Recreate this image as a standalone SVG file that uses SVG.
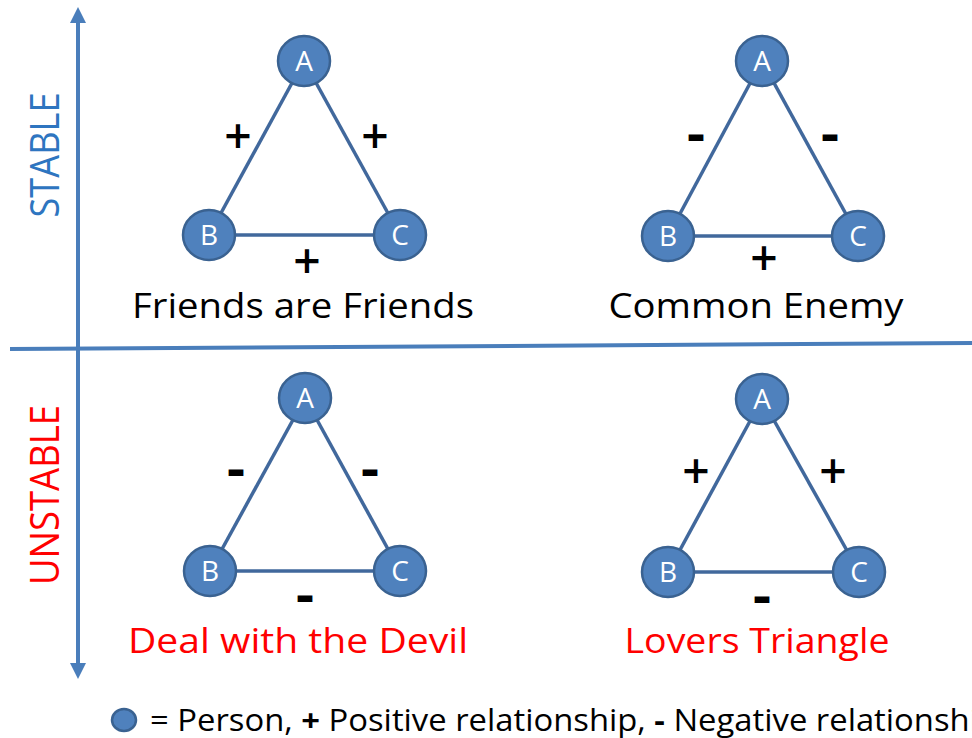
<svg xmlns="http://www.w3.org/2000/svg" width="972" height="738" viewBox="0 0 972 738">
<style>
.edge{stroke:#41689C;stroke-width:3.5;fill:none}
.node{fill:#4F81BD;stroke:#3A6291;stroke-width:2.5}
.nl{font-family:"Open Sans","Liberation Sans",sans-serif;font-size:28px;fill:#fff;text-anchor:middle}
.plus{font-family:"Open Sans","Liberation Sans",sans-serif;font-weight:600;font-size:48px;fill:#000;text-anchor:middle}
.minus{font-family:"Open Sans","Liberation Sans",sans-serif;font-weight:800;font-size:42px;fill:#000;text-anchor:middle}
.title{font-family:"Open Sans","Liberation Sans",sans-serif;font-size:34px;text-anchor:middle}
.axis{stroke:#4A7EBB;stroke-width:4;fill:none}
</style>
<g id="axes">
<line class="axis" x1="78" y1="20" x2="78" y2="666"/>
<polygon points="78,7 70,23 86,23" fill="#4A7EBB"/>
<polygon points="78,679 70,663 86,663" fill="#4A7EBB"/>
<line class="axis" x1="10" y1="349" x2="972" y2="343"/>
<text x="59" y="155" transform="rotate(-90 59 155)" font-family="Open Sans, Liberation Sans, sans-serif" font-size="41" fill="#2E75C0" text-anchor="middle" textLength="125" lengthAdjust="spacingAndGlyphs">STABLE</text>
<text x="59" y="495" transform="rotate(-90 59 495)" font-family="Open Sans, Liberation Sans, sans-serif" font-size="41" fill="#FF0000" text-anchor="middle" textLength="180" lengthAdjust="spacingAndGlyphs">UNSTABLE</text>
</g>
<g id="connectors">
<line class="edge" x1="304" y1="61" x2="209" y2="235"/>
<line class="edge" x1="304" y1="61" x2="400" y2="235"/>
<line class="edge" x1="209" y1="235" x2="400" y2="235"/>
<line class="edge" x1="762" y1="61" x2="668" y2="236"/>
<line class="edge" x1="762" y1="61" x2="858" y2="236"/>
<line class="edge" x1="668" y1="236" x2="858" y2="236"/>
<line class="edge" x1="305" y1="398" x2="210" y2="571"/>
<line class="edge" x1="305" y1="398" x2="400" y2="571"/>
<line class="edge" x1="210" y1="571" x2="400" y2="571"/>
<line class="edge" x1="762" y1="399" x2="668" y2="572"/>
<line class="edge" x1="762" y1="399" x2="859" y2="572"/>
<line class="edge" x1="668" y1="572" x2="859" y2="572"/>
</g>
<g id="signs">
<text class="plus" x="238" y="153">+</text>
<text class="plus" x="375" y="153">+</text>
<text class="plus" x="307" y="278">+</text>
<text class="minus" x="696" y="149" textLength="17" lengthAdjust="spacingAndGlyphs">-</text>
<text class="minus" x="830" y="149" textLength="17" lengthAdjust="spacingAndGlyphs">-</text>
<text class="plus" x="764" y="275">+</text>
<text class="minus" x="236" y="484" textLength="17" lengthAdjust="spacingAndGlyphs">-</text>
<text class="minus" x="370" y="484" textLength="17" lengthAdjust="spacingAndGlyphs">-</text>
<text class="minus" x="305" y="610" textLength="17" lengthAdjust="spacingAndGlyphs">-</text>
<text class="plus" x="696" y="488">+</text>
<text class="plus" x="833" y="488">+</text>
<text class="minus" x="762" y="611" textLength="17" lengthAdjust="spacingAndGlyphs">-</text>
</g>
<g id="t1A"><ellipse class="node" cx="304" cy="61" rx="26" ry="25"/><text class="nl" x="304" y="71">A</text></g>
<g id="t1B"><ellipse class="node" cx="209" cy="235" rx="26" ry="25"/><text class="nl" x="209" y="245">B</text></g>
<g id="t1C"><ellipse class="node" cx="400" cy="235" rx="26" ry="25"/><text class="nl" x="400" y="245">C</text></g>
<g id="t2A"><ellipse class="node" cx="762" cy="61" rx="26" ry="25"/><text class="nl" x="762" y="71">A</text></g>
<g id="t2B"><ellipse class="node" cx="668" cy="236" rx="26" ry="25"/><text class="nl" x="668" y="246">B</text></g>
<g id="t2C"><ellipse class="node" cx="858" cy="236" rx="26" ry="25"/><text class="nl" x="858" y="246">C</text></g>
<g id="t3A"><ellipse class="node" cx="305" cy="398" rx="26" ry="25"/><text class="nl" x="305" y="408">A</text></g>
<g id="t3B"><ellipse class="node" cx="210" cy="571" rx="26" ry="25"/><text class="nl" x="210" y="581">B</text></g>
<g id="t3C"><ellipse class="node" cx="400" cy="571" rx="26" ry="25"/><text class="nl" x="400" y="581">C</text></g>
<g id="t4A"><ellipse class="node" cx="762" cy="399" rx="26" ry="25"/><text class="nl" x="762" y="409">A</text></g>
<g id="t4B"><ellipse class="node" cx="668" cy="572" rx="26" ry="25"/><text class="nl" x="668" y="582">B</text></g>
<g id="t4C"><ellipse class="node" cx="859" cy="572" rx="26" ry="25"/><text class="nl" x="859" y="582">C</text></g>
<g id="titles">
<text class="title" x="303" y="318" fill="#000" textLength="342" lengthAdjust="spacingAndGlyphs">Friends are Friends</text>
<text class="title" x="756" y="318" fill="#000" textLength="295" lengthAdjust="spacingAndGlyphs">Common Enemy</text>
<text class="title" x="298" y="653" fill="#FF0000" textLength="340" lengthAdjust="spacingAndGlyphs">Deal with the Devil</text>
<text class="title" x="757" y="653" fill="#FF0000" textLength="265" lengthAdjust="spacingAndGlyphs">Lovers Triangle</text>
</g>
<g id="legend">
<ellipse class="node" cx="124" cy="720" rx="12" ry="11"/>
<text x="150" y="731" font-family="Open Sans, Liberation Sans, sans-serif" font-size="31" fill="#000" textLength="848" lengthAdjust="spacingAndGlyphs">= Person, <tspan font-weight="bold">+</tspan> Positive relationship, <tspan font-weight="bold">-</tspan> Negative relationship</text>
</g>
</svg>
